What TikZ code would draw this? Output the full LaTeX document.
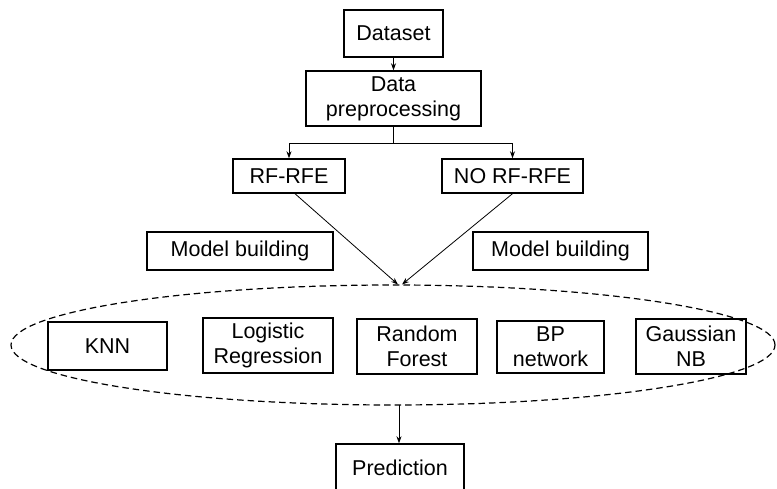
\documentclass[tikz,border=0pt]{standalone}
\usepackage{fontspec}
\setmainfont{Liberation Sans}
\usetikzlibrary{arrows.meta,shapes.geometric}
\begin{document}
\begin{tikzpicture}[x=1pt,y=-1pt,
  box/.style={draw, line width=1.4pt, inner sep=0pt, align=center,
    font=\fontsize{21.5}{25}\selectfont},
  arr/.style={line width=0.8pt, -{Stealth[length=7pt,width=5pt]}},
  ln/.style={line width=0.8pt}]
\useasboundingbox (0,0) rectangle (777,489);
\node[box, minimum width=99pt, minimum height=47pt] (ds) at (393.5,33.5) {Dataset};
\node[box, minimum width=175pt, minimum height=55pt] (dp) at (393.5,98.5) {Data\\preprocessing};
\node[box, minimum width=112pt, minimum height=34pt] (rf) at (289,176) {RF-RFE};
\node[box, minimum width=141pt, minimum height=34pt] (norf) at (512.5,176) {NO RF-RFE};
\node[box, minimum width=186pt, minimum height=38pt] (mb1) at (240,251) {Model building};
\node[box, minimum width=175pt, minimum height=38pt] (mb2) at (560.5,251) {Model building};
\node[draw, dashed, dash pattern=on 6.5pt off 4pt, line width=1.2pt, ellipse,
  minimum width=764pt, minimum height=120pt, inner sep=0pt] (ens) at (393,345) {};
\node[box, minimum width=119pt, minimum height=48pt] (knn) at (107.5,346) {KNN};
\node[box, minimum width=130pt, minimum height=55pt] (lr) at (268,345.5) {Logistic\\Regression};
\node[box, minimum width=120pt, minimum height=55pt] (rfo) at (417,346.5) {Random\\Forest};
\node[box, minimum width=107pt, minimum height=52pt] (bp) at (550.5,347) {BP\\network};
\node[box, minimum width=110pt, minimum height=55pt] (gnb) at (691,346.5) {Gaussian\\NB};
\node[box, minimum width=128pt, minimum height=47pt] (pred) at (400,467.5) {Prediction};
\coordinate (split) at (393.5,143);
\coordinate (tl) at (398,284.5);
\coordinate (tr) at (402,284.5);
\coordinate (eb) at (399,405);
\draw[arr] (ds) -- (dp);
\draw[ln] (dp.south) -- (split);
\draw[arr] (split) -| (rf.north);
\draw[arr] (split) -| (norf.north);
\draw[arr] ([xshift=6pt]rf.south) -- (tl);
\draw[arr] (norf.south) -- (tr);
\draw[arr] (eb) -- (pred.north -| eb);
\end{tikzpicture}
\end{document}
